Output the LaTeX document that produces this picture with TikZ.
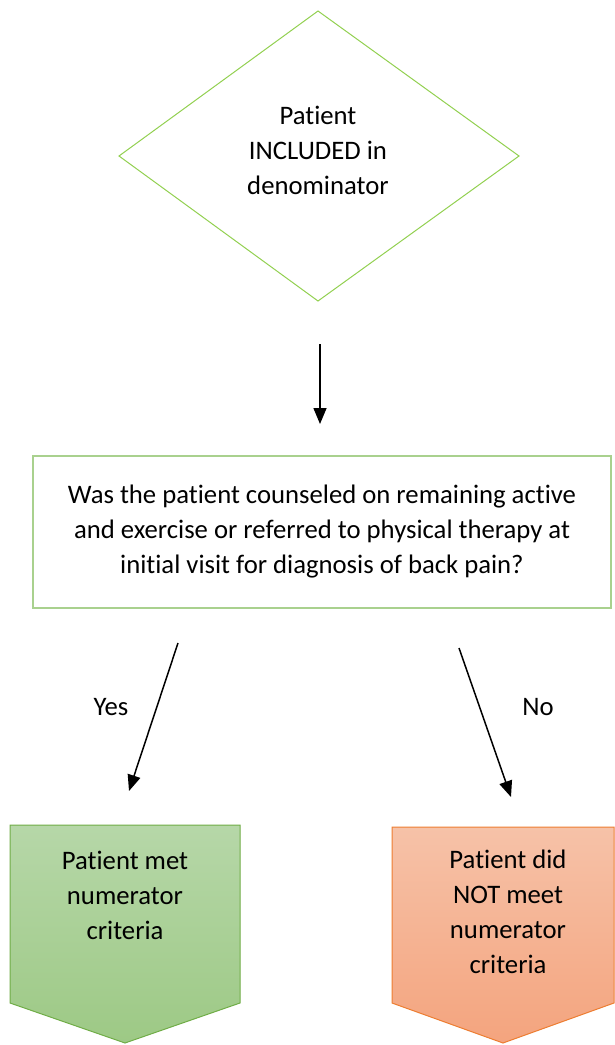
\documentclass[tikz,border=0pt]{standalone}
\usepackage{fontspec}
\setmainfont[Ligatures=NoCommon]{Carlito}
\usetikzlibrary{arrows.meta}
\definecolor{diagreen}{HTML}{92D050}
\definecolor{boxgreen}{HTML}{A9D18E}
\definecolor{gtop}{HTML}{B6D7A8}
\definecolor{gbot}{HTML}{9DC985}
\definecolor{gedge}{HTML}{70AD47}
\definecolor{otop}{HTML}{F6C2A8}
\definecolor{obot}{HTML}{F4A47E}
\definecolor{oedge}{HTML}{ED7D31}
\tikzset{
  txt/.style={align=center, font=\fontsize{26.7pt}{35pt}\selectfont, inner sep=0pt},
  arr/.style={line width=1.5pt, -{Triangle[length=16pt,width=13pt]}},
}
\begin{document}
\begin{tikzpicture}[x=1pt,y=-1pt]
\useasboundingbox (0,0) rectangle (614,1045);
% diamond
\draw[diagreen, line width=1pt] (318,11) -- (519,156) -- (318,301) -- (119,156) -- cycle;
\node[txt] (dia) at (318,150) {Patient\\INCLUDED in\\denominator};
% question box
\draw[boxgreen, line width=1.2pt] (33,456) rectangle (611,608);
\node[txt] (q) at (322,532) {Was the patient counseled on remaining active\\and exercise or referred to physical therapy at\\initial visit for diagnosis of back pain?};
% pentagons
\shade[top color=gtop, bottom color=gbot] (10,825) -- (240,825) -- (240,1003) -- (125,1043) -- (10,1003) -- cycle;
\draw[gedge, line width=1pt] (10,825) -- (240,825) -- (240,1003) -- (125,1043) -- (10,1003) -- cycle;
\node[txt] (yesbox) at (125,895) {Patient met\\numerator\\criteria};
\shade[top color=otop, bottom color=obot] (392,827) -- (614,827) -- (614,1003) -- (503,1043) -- (392,1003) -- cycle;
\draw[oedge, line width=1pt] (392,827) -- (614,827) -- (614,1003) -- (503,1043) -- (392,1003) -- cycle;
\node[txt] (nobox) at (508,912) {Patient did\\NOT meet\\numerator\\criteria};
% arrow coordinates
\coordinate (a1s) at (320,344);
\coordinate (a1e) at (320,424);
\coordinate (ys) at (178,643);
\coordinate (ye) at (129,791);
\coordinate (ns) at (459,648);
\coordinate (ne) at (511,797);
\draw[arr] (a1s) -- (a1e);
\draw[arr] (ys) -- (ye);
\draw[arr] (ns) -- (ne);
\node[txt] (yes) at (111,707) {Yes};
\node[txt] (no) at (538,707) {No};
\end{tikzpicture}
\end{document}
